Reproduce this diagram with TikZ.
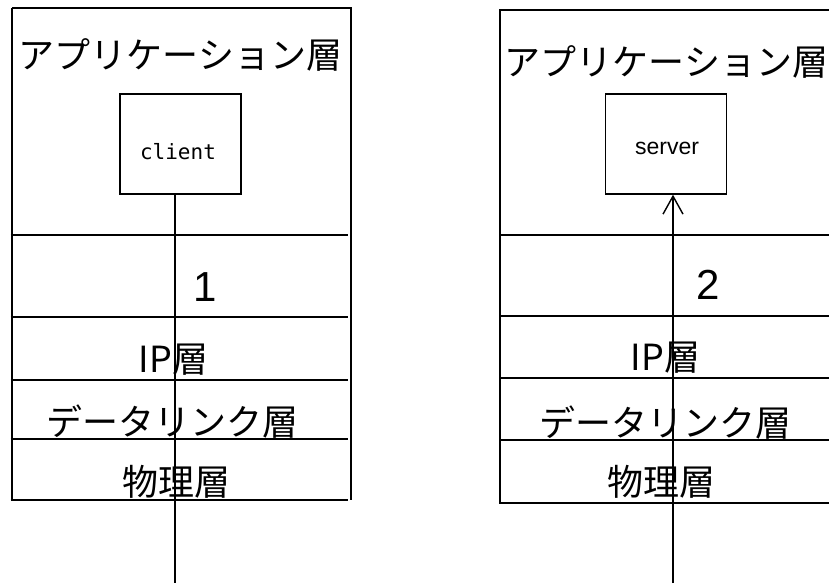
\documentclass[tikz,border=0pt]{standalone}
\usepackage{fontspec}
\setmainfont{Noto Sans CJK JP}
\newfontfamily\monofont{DejaVu Sans Mono}
\newfontfamily\latinfont{Liberation Sans}
\usetikzlibrary{arrows.meta}
\tikzset{
  ln/.style={line width=1.4pt},
  jp/.style={inner sep=0pt, font=\fontsize{36}{40}\selectfont},
  num/.style={inner sep=0pt, font=\latinfont\fontsize{42}{46}\selectfont},
  app/.style={draw, line width=1.4pt, minimum width=121pt, minimum height=100pt, inner sep=0pt},
  conn/.style={line width=1.4pt},
}
\begin{document}
\begin{tikzpicture}[x=1pt,y=-1pt]
\useasboundingbox (0,0) rectangle (829,583);
% left stack
\draw[ln] (12,8) -- (351,8) -- (351,500);
\draw[ln] (12,8) -- (12,500);
\foreach \yy in {235,317,380,439,500} \draw[ln] (10.5,\yy) -- (348,\yy);
% right stack
\draw[ln] (829,10) -- (500,10) -- (500,503);
\foreach \yy in {235,316,378,440,503} \draw[ln] (499,\yy) -- (829,\yy);
% texts left
\node[jp] (la) at (180.5,55) {アプリケーション層};
\node[num] (l1) at (205,287) {1};
\node[jp] (lip) at (173.5,360) {IP層};
\node[jp] (ldl) at (172.5,422) {データリンク層};
\node[jp] (lph) at (176.5,482) {物理層};
% texts right
\node[jp] (ra) at (666.5,62) {アプリケーション層};
\node[num] (r2) at (708,285) {2};
\node[jp] (rip) at (665.5,358) {IP層};
\node[jp] (rdl) at (665,423) {データリンク層};
\node[jp] (rph) at (661.5,482) {物理層};
% app boxes
\node[app] (client) at (180.5,144) {};
\node[app] (server) at (666,144) {};
\node[inner sep=0pt, anchor=base, font=\monofont\fontsize{21}{24}\selectfont] (clientlbl) at (178,159) {client};
\node[inner sep=0pt, anchor=base, font=\latinfont\fontsize{23}{26}\selectfont] (serverlbl) at (667,154) {server};
% connectors
\coordinate (lb) at (175,583);
\coordinate (rb) at (673,583);
\draw[conn] (lb |- client.south) -- (lb);
\draw[conn, -{Straight Barb[length=18pt,width=20pt,line width=1.4pt]}] (rb) -- (rb |- server.south);
\end{tikzpicture}
\end{document}
